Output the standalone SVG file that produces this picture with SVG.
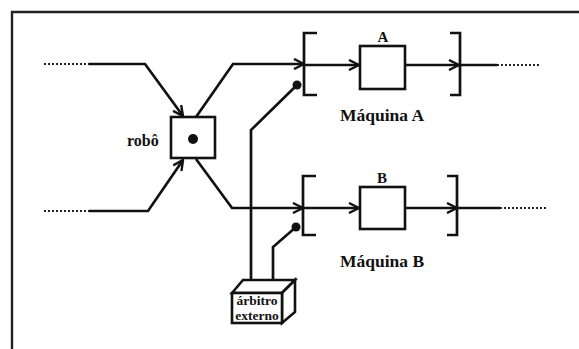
<svg xmlns="http://www.w3.org/2000/svg" width="579" height="349" viewBox="0 0 579 349">
<defs>
<marker id="arr" viewBox="0 0 12 12" refX="11" refY="6" markerWidth="12" markerHeight="12" markerUnits="userSpaceOnUse" orient="auto">
<path d="M1,1 L11,6 L1,11" fill="none" stroke="#111" stroke-width="2.4"/>
</marker>
<style>
.ln{fill:none;stroke:#111;stroke-width:2.7;stroke-linejoin:miter}
.dot{fill:none;stroke:#222;stroke-width:1.8;stroke-dasharray:2,2}
.bx{fill:#fff;stroke:#111;stroke-width:2.6}
.t{font-family:"Liberation Serif",serif;font-weight:bold;fill:#111}
</style>
</defs>
<rect width="579" height="349" fill="#fff"/>
<path d="M12,349 V12 H579" fill="none" stroke="#222" stroke-width="2.4"/>

<g id="connectors">
<line class="dot" x1="44" y1="64" x2="89" y2="64"/>
<path class="ln" d="M89,64 H145 L183,116" marker-end="url(#arr)"/>
<line class="dot" x1="44" y1="211" x2="89" y2="211"/>
<path class="ln" d="M89,211 H148 L183,160" marker-end="url(#arr)"/>
<path class="ln" d="M196,117 L233,64 H304" marker-end="url(#arr)"/>
<path class="ln" d="M196,159 L232,208 H303" marker-end="url(#arr)"/>
<path class="ln" d="M304,65 H359" marker-end="url(#arr)"/>
<path class="ln" d="M405,65 H459" marker-end="url(#arr)"/>
<path class="ln" d="M459,65 H497"/>
<line class="dot" x1="497" y1="65" x2="541" y2="65"/>
<path class="ln" d="M303,208 H359" marker-end="url(#arr)"/>
<path class="ln" d="M405,208 H457" marker-end="url(#arr)"/>
<path class="ln" d="M457,208 H500"/>
<line class="dot" x1="500" y1="208" x2="548" y2="208"/>
<path class="ln" d="M297,85 L251,130 V288"/>
<circle cx="297" cy="85" r="4.5" fill="#111"/>
<path class="ln" d="M296,227 L273,247 V288"/>
<circle cx="296" cy="227" r="4.5" fill="#111"/>
</g>

<g id="robo">
<rect class="bx" x="171" y="117" width="44" height="41"/>
<circle cx="193" cy="139" r="5" fill="#111"/>
<text class="t" x="127" y="146" font-size="16">robô</text>
</g>

<g id="maquinaA">
<path class="ln" d="M317,33 H304 V95 H317"/>
<path class="ln" d="M450,33 H460 V95 H450"/>
<rect class="bx" x="360" y="46" width="45" height="43"/>
<text class="t" x="383" y="42" font-size="15" text-anchor="middle">A</text>
<text class="t" x="382" y="121" font-size="17.5" text-anchor="middle">Máquina A</text>
</g>

<g id="maquinaB">
<path class="ln" d="M316,176 H303 V235 H316"/>
<path class="ln" d="M447,176 H457 V235 H447"/>
<rect class="bx" x="360" y="187" width="45" height="42"/>
<text class="t" x="382" y="183" font-size="15" text-anchor="middle">B</text>
<text class="t" x="382" y="267" font-size="17.5" text-anchor="middle">Máquina B</text>
</g>

<g id="arbitro">
<path class="bx" d="M232,293 L243,280 H295 L282,293 Z"/>
<path class="bx" d="M282,293 L295,280 V312 L282,323 Z"/>
<rect class="bx" x="232" y="293" width="50" height="30"/>
<text class="t" x="257" y="305" font-size="13.5" text-anchor="middle">árbitro</text>
<text class="t" x="257" y="320" font-size="13.5" text-anchor="middle">externo</text>
</g>
</svg>
